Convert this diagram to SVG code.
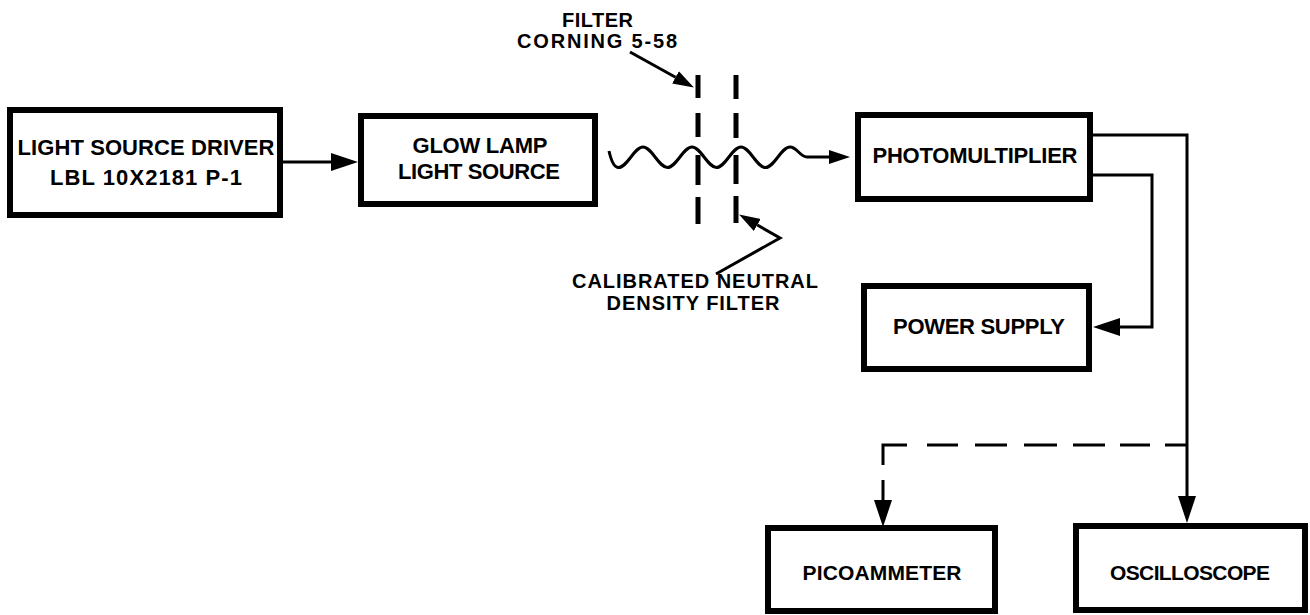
<svg xmlns="http://www.w3.org/2000/svg" width="1310" height="615" viewBox="0 0 1310 615">
<style>
.box{fill:#fff;stroke:#000;stroke-width:6}
.t{font-family:"Liberation Sans",Arial,sans-serif;font-weight:bold;font-size:22px;fill:#000;text-anchor:middle}
.s{font-size:21px}
.lbl{font-family:"Liberation Sans",Arial,sans-serif;font-weight:bold;font-size:20px;fill:#000}
.c{fill:none;stroke:#000;stroke-width:3}
.f{fill:none;stroke:#000;stroke-width:5}
</style>
<defs>
<marker id="arr" markerUnits="userSpaceOnUse" markerWidth="28" markerHeight="20" refX="0" refY="9" orient="auto" viewBox="0 0 28 18">
<path d="M0,0 L27,9 L0,18 z" fill="#000"/>
</marker>
<marker id="arrs" markerUnits="userSpaceOnUse" markerWidth="22" markerHeight="16" refX="0" refY="7" orient="auto" viewBox="0 0 22 14">
<path d="M0,0 L21,7 L0,14 z" fill="#000"/>
</marker>
</defs>
<rect width="1310" height="615" fill="#fff"/>

<g id="connectors">
<path class="c" d="M283 162 L331 162" marker-end="url(#arr)"/>
<path class="c" d="M609 151 C611 160 614 167.5 618.5 167.5 C627.3 167.5 634.2 147 643 147 C651.8 147 658.7 167.5 667.5 167.5 C676.3 167.5 683.2 147 692 147 C700.8 147 707.7 167.5 716.5 167.5 C725.3 167.5 732.2 147 741 147 C749.8 147 756.7 167.5 765.5 167.5 C774.3 167.5 781.2 147 790 147 C797 147 800 157 807 157 L829 157" marker-end="url(#arrs)"/>
<path class="c" d="M1093 135 H1187 V496" marker-end="url(#arr)"/>
<path class="c" d="M1093 175 H1152 V327 H1120" marker-end="url(#arr)"/>
<path class="c" d="M1187 445 H1165 M1150 445 H1120 M1105 445 H1073 M1057 445 H1024 M1007 445 H975 M958 445 H927 M907 445 H883 V465 M883 480 V500" marker-end="url(#arr)"/>
<path class="c" d="M630 52 L675.5 77.3" marker-end="url(#arrs)"/>
<path class="c" d="M716 274 L780 238 L757.3 225" marker-end="url(#arrs)"/>
</g>

<g id="filters">
<path class="f" d="M698 75 V98 M698 113 V137 M698 155 V185 M698 197 V224"/>
<path class="f" d="M736 75 V99 M736 113 V138 M736 155 V184 M736 196 V223"/>
</g>

<g id="light-source-driver">
<rect class="box" x="10" y="110" width="270" height="105"/>
<text class="t" x="146" y="155" textLength="257" lengthAdjust="spacing">LIGHT SOURCE DRIVER</text>
<text class="t" x="146" y="185" textLength="192" lengthAdjust="spacing">LBL 10X2181 P-1</text>
</g>

<g id="glow-lamp">
<rect class="box" x="361" y="116" width="234" height="88"/>
<text class="t" x="480" y="153" textLength="135" lengthAdjust="spacing">GLOW LAMP</text>
<text class="t" x="479" y="179" textLength="162" lengthAdjust="spacing">LIGHT SOURCE</text>
</g>

<g id="photomultiplier">
<rect class="box" x="858" y="115" width="232" height="84"/>
<text class="t" x="975" y="163" textLength="205" lengthAdjust="spacing">PHOTOMULTIPLIER</text>
</g>

<g id="power-supply">
<rect class="box" x="864" y="286" width="225" height="83"/>
<text class="t" x="979" y="334" textLength="172" lengthAdjust="spacing">POWER SUPPLY</text>
</g>

<g id="picoammeter">
<rect class="box" x="768" y="528" width="227" height="83"/>
<text class="t s" x="882" y="580" textLength="159" lengthAdjust="spacing">PICOAMMETER</text>
</g>

<g id="oscilloscope">
<rect class="box" x="1076" y="526" width="229" height="84"/>
<text class="t s" x="1190" y="580" textLength="160" lengthAdjust="spacing">OSCILLOSCOPE</text>
</g>

<g id="labels">
<text class="lbl" x="633" y="27" text-anchor="end" textLength="71" lengthAdjust="spacing">FILTER</text>
<text class="lbl" x="677" y="48" text-anchor="end" textLength="160" lengthAdjust="spacing">CORNING 5-58</text>
<text class="lbl" x="695" y="288" text-anchor="middle" textLength="246" lengthAdjust="spacing">CALIBRATED NEUTRAL</text>
<text class="lbl" x="693" y="310" text-anchor="middle" textLength="173" lengthAdjust="spacing">DENSITY FILTER</text>
</g>
</svg>
